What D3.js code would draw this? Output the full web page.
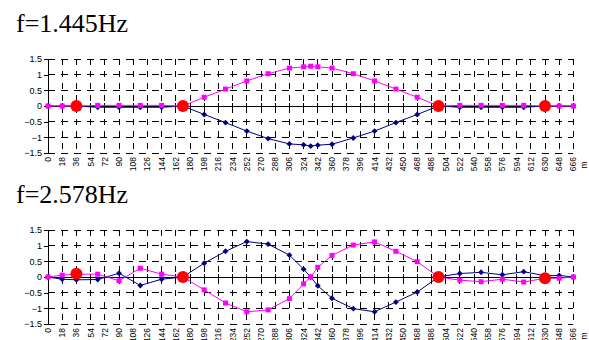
<!DOCTYPE html>
<html>
<head>
<meta charset="utf-8">
<script src="https://cdn.jsdelivr.net/npm/d3@7"></script>
<style>
  body { margin: 0; background: #fff; }
  svg { display: block; }
</style>
</head>
<body>
<div id="chart"></div>
<script>
// positions along the bridge (m) where the mode shape is sampled
const xPos = [0, 18, 36, 63, 90, 117, 144, 171, 198, 225, 252, 279, 306, 324, 333, 342,
  360, 387, 414, 441, 468, 495, 522, 549, 576, 603, 630, 648, 666];

const xTicks = [0, 18, 36, 54, 72, 90, 108, 126, 144, 162, 180, 198, 216, 234, 252, 270,
  288, 306, 324, 342, 360, 378, 396, 414, 432, 450, 468, 486, 504, 522, 540, 558, 576,
  594, 612, 630, 648, 666];
const yTicks = [1.5, 1, 0.5, 0, -0.5, -1, -1.5];

const supportX = [36, 171, 495, 630];

const titles = ['f=1.445Hz', 'f=2.578Hz'];

const mode1Pink = [0, 0, 0, 0.02, 0.02, 0.02, 0.02, 0, 0.28, 0.54, 0.80, 1.03, 1.21, 1.25,
  1.27, 1.25, 1.21, 1.03, 0.80, 0.54, 0.28, 0, 0.02, 0.02, 0.02, 0.02, 0, 0, 0];
const mode1Navy = [0, 0, 0, -0.04, -0.04, -0.04, -0.04, 0, -0.27, -0.53, -0.80, -1.04, -1.21,
  -1.24, -1.28, -1.25, -1.22, -1.02, -0.80, -0.53, -0.27, 0, -0.04, -0.04, -0.04, -0.04, 0, 0, 0];
const mode1Support = [0, 0, 0, 0];

const mode2Pink = [0, 0.06, 0.09, 0.09, -0.12, 0.28, 0.09, 0, -0.41, -0.83, -1.11, -1.05,
  -0.69, -0.22, 0, 0.31, 0.69, 1.02, 1.12, 0.82, 0.49, 0, -0.10, -0.15, -0.07, -0.16, -0.04, -0.04, 0];
const mode2Navy = [0, -0.07, -0.09, -0.08, 0.12, -0.27, -0.07, 0, 0.44, 0.82, 1.13, 1.05,
  0.70, 0.25, 0, -0.28, -0.68, -1.01, -1.11, -0.80, -0.48, 0, 0.11, 0.15, 0.07, 0.17, 0.04, 0.05, 0];
const mode2Support = [0.1, 0, 0, -0.04];

const width = 589, height = 340;

const svg = d3.select('#chart').append('svg')
  .attr('width', width)
  .attr('height', height);

const x = d3.scaleLinear().domain([0, 666]).range([48, 573.4]);

function drawPanel(top, title, pink, navy, support) {
  const g = svg.append('g');
  const y = d3.scaleLinear().domain([-1.5, 1.5]).range([top + 94, top]);

  svg.append('text')
    .attr('x', 16)
    .attr('y', top - 27)
    .attr('font-family', '"Liberation Serif", "Times New Roman", serif')
    .attr('font-size', 26)
    .text(title);

  // dashed grid
  g.selectAll('.hgrid')
    .data(yTicks.filter(d => d !== 0))
    .enter().append('line')
    .attr('x1', x(0)).attr('x2', x(666))
    .attr('y1', d => y(d)).attr('y2', d => y(d))
    .attr('stroke', '#000').attr('stroke-width', 1)
    .attr('stroke-dasharray', '7,6')
    .attr('shape-rendering', 'crispEdges');

  g.selectAll('.vgrid')
    .data(xTicks.filter(d => d !== 0))
    .enter().append('line')
    .attr('x1', d => x(d)).attr('x2', d => x(d))
    .attr('y1', y(1.5)).attr('y2', y(-1.5))
    .attr('stroke', '#000').attr('stroke-width', 1)
    .attr('stroke-dasharray', '6,6')
    .attr('shape-rendering', 'crispEdges');

  // zero line with cross ticks
  g.append('line')
    .attr('x1', x(0)).attr('x2', x(666))
    .attr('y1', y(0)).attr('y2', y(0))
    .attr('stroke', '#000')
    .attr('shape-rendering', 'crispEdges');
  g.selectAll('.xtick')
    .data(xTicks)
    .enter().append('line')
    .attr('x1', d => x(d)).attr('x2', d => x(d))
    .attr('y1', y(0) - 3).attr('y2', y(0) + 3)
    .attr('stroke', '#000')
    .attr('shape-rendering', 'crispEdges');

  // y axis
  const yAxis = d3.axisLeft(y).tickValues(yTicks).tickSize(4).tickFormat(d3.format('~g'));
  const ya = g.append('g')
    .attr('transform', `translate(${x(0)},0)`)
    .call(yAxis);
  ya.select('.domain').attr('d', `M0,${y(1.5)}V${y(-1.5)}`).attr('shape-rendering', 'crispEdges');
  ya.selectAll('line').attr('shape-rendering', 'crispEdges');
  ya.selectAll('text')
    .attr('font-family', '"Liberation Sans", Arial, sans-serif')
    .attr('font-size', 9)
    .attr('x', -6);

  // x labels, rotated
  g.selectAll('.xlab')
    .data(xTicks)
    .enter().append('text')
    .attr('transform', d => `translate(${x(d)},${y(-1.5) + 4}) rotate(-90)`)
    .attr('text-anchor', 'end')
    .attr('dy', '0.35em')
    .attr('font-family', '"Liberation Sans", Arial, sans-serif')
    .attr('font-size', 8.5)
    .text(d => d);

  g.append('text')
    .attr('transform', `translate(584,${y(-1.5) + 12}) rotate(-90)`)
    .attr('text-anchor', 'middle')
    .attr('dy', '0.35em')
    .attr('font-family', '"Liberation Sans", Arial, sans-serif')
    .attr('font-size', 8.5)
    .text('m');

  const line = d3.line()
    .x((d, i) => x(xPos[i]))
    .y(d => y(d));

  g.append('path')
    .datum(navy)
    .attr('d', line)
    .attr('fill', 'none')
    .attr('stroke', '#000080')
    .attr('stroke-width', 1);

  g.append('path')
    .datum(pink)
    .attr('d', line)
    .attr('fill', 'none')
    .attr('stroke', '#ff00ff')
    .attr('stroke-width', 1);

  g.selectAll('.navy')
    .data(navy)
    .enter().append('path')
    .attr('d', d3.symbol(d3.symbolDiamond2, 22))
    .attr('transform', (d, i) => `translate(${x(xPos[i])},${y(d)})`)
    .attr('fill', '#000080');

  g.selectAll('.pink')
    .data(pink)
    .enter().append('rect')
    .attr('x', (d, i) => x(xPos[i]) - 2.5)
    .attr('y', d => y(d) - 2.5)
    .attr('width', 5).attr('height', 5)
    .attr('fill', '#ff00ff');

  g.selectAll('.support')
    .data(support)
    .enter().append('circle')
    .attr('cx', (d, i) => x(supportX[i]))
    .attr('cy', d => y(d))
    .attr('r', 6)
    .attr('fill', '#ff0000');
}

drawPanel(59, titles[0], mode1Pink, mode1Navy, mode1Support);
drawPanel(230, titles[1], mode2Pink, mode2Navy, mode2Support);
</script>
</body>
</html>
